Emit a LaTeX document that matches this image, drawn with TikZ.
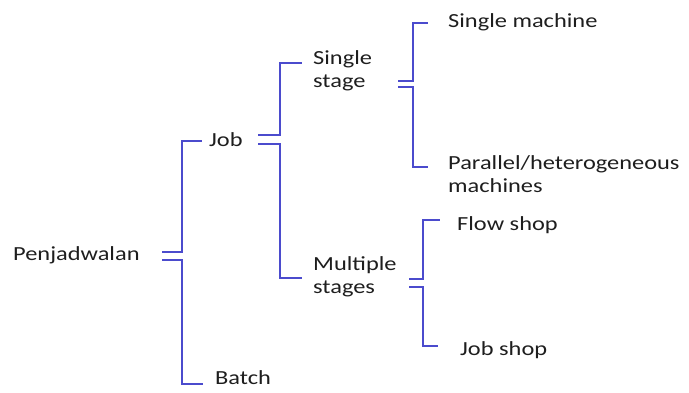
\documentclass[tikz,border=0pt]{standalone}
\usepackage{fontspec}
\setmainfont[FakeStretch=1.22]{Carlito}
\definecolor{brace}{RGB}{75,75,205}
\definecolor{txt}{RGB}{30,30,30}
\begin{document}
\begin{tikzpicture}[x=1pt,y=-1pt,
  lbl/.style={anchor=west,inner sep=0pt,text=txt,font=\fontsize{20}{23}\selectfont,align=left},
  br/.style={draw=brace,line width=1.6pt,line cap=butt,line join=miter}]
\useasboundingbox (0,0) rectangle (689,392);
% texts
\node[lbl] (pen) at (13,255) {Penjadwalan};
\node[lbl] (job) at (209,140) {Job};
\node[lbl] (bat) at (215,378) {Batch};
\node[lbl,anchor=north west] (ss) at (313,50) {Single\\stage};
\node[lbl,anchor=north west] (ms) at (313,256) {Multiple\\stages};
\node[lbl] (sm) at (448,22) {Single machine};
\node[lbl,anchor=north west] (ph) at (448,155) {Parallel/heterogeneous\\machines};
\node[lbl] (fs) at (457,225) {Flow shop};
\node[lbl] (js) at (460,350) {Job shop};
% brace coordinates
\coordinate (p1a) at (162,252); \coordinate (p1b) at (162,260);
\coordinate (c1a) at (202,141); \coordinate (c1b) at (203,384);
\coordinate (p2a) at (258,135); \coordinate (p2b) at (258,144);
\coordinate (c2a) at (302,63);  \coordinate (c2b) at (302,278);
\coordinate (p3a) at (398,81);  \coordinate (p3b) at (398,87);
\coordinate (c3a) at (428,23);  \coordinate (c3b) at (428,167);
\coordinate (p4a) at (409,279); \coordinate (p4b) at (409,287);
\coordinate (c4a) at (440,220); \coordinate (c4b) at (438,346);
% connectors
\draw[br] (p1a) -- ++(20,0) |- (c1a);
\draw[br] (p1b) -- ++(20,0) |- (c1b);
\draw[br] (p2a) -- ++(22,0) |- (c2a);
\draw[br] (p2b) -- ++(22,0) |- (c2b);
\draw[br] (p3a) -- ++(15,0) |- (c3a);
\draw[br] (p3b) -- ++(15,0) |- (c3b);
\draw[br] (p4a) -- ++(14,0) |- (c4a);
\draw[br] (p4b) -- ++(14,0) |- (c4b);
\end{tikzpicture}
\end{document}
